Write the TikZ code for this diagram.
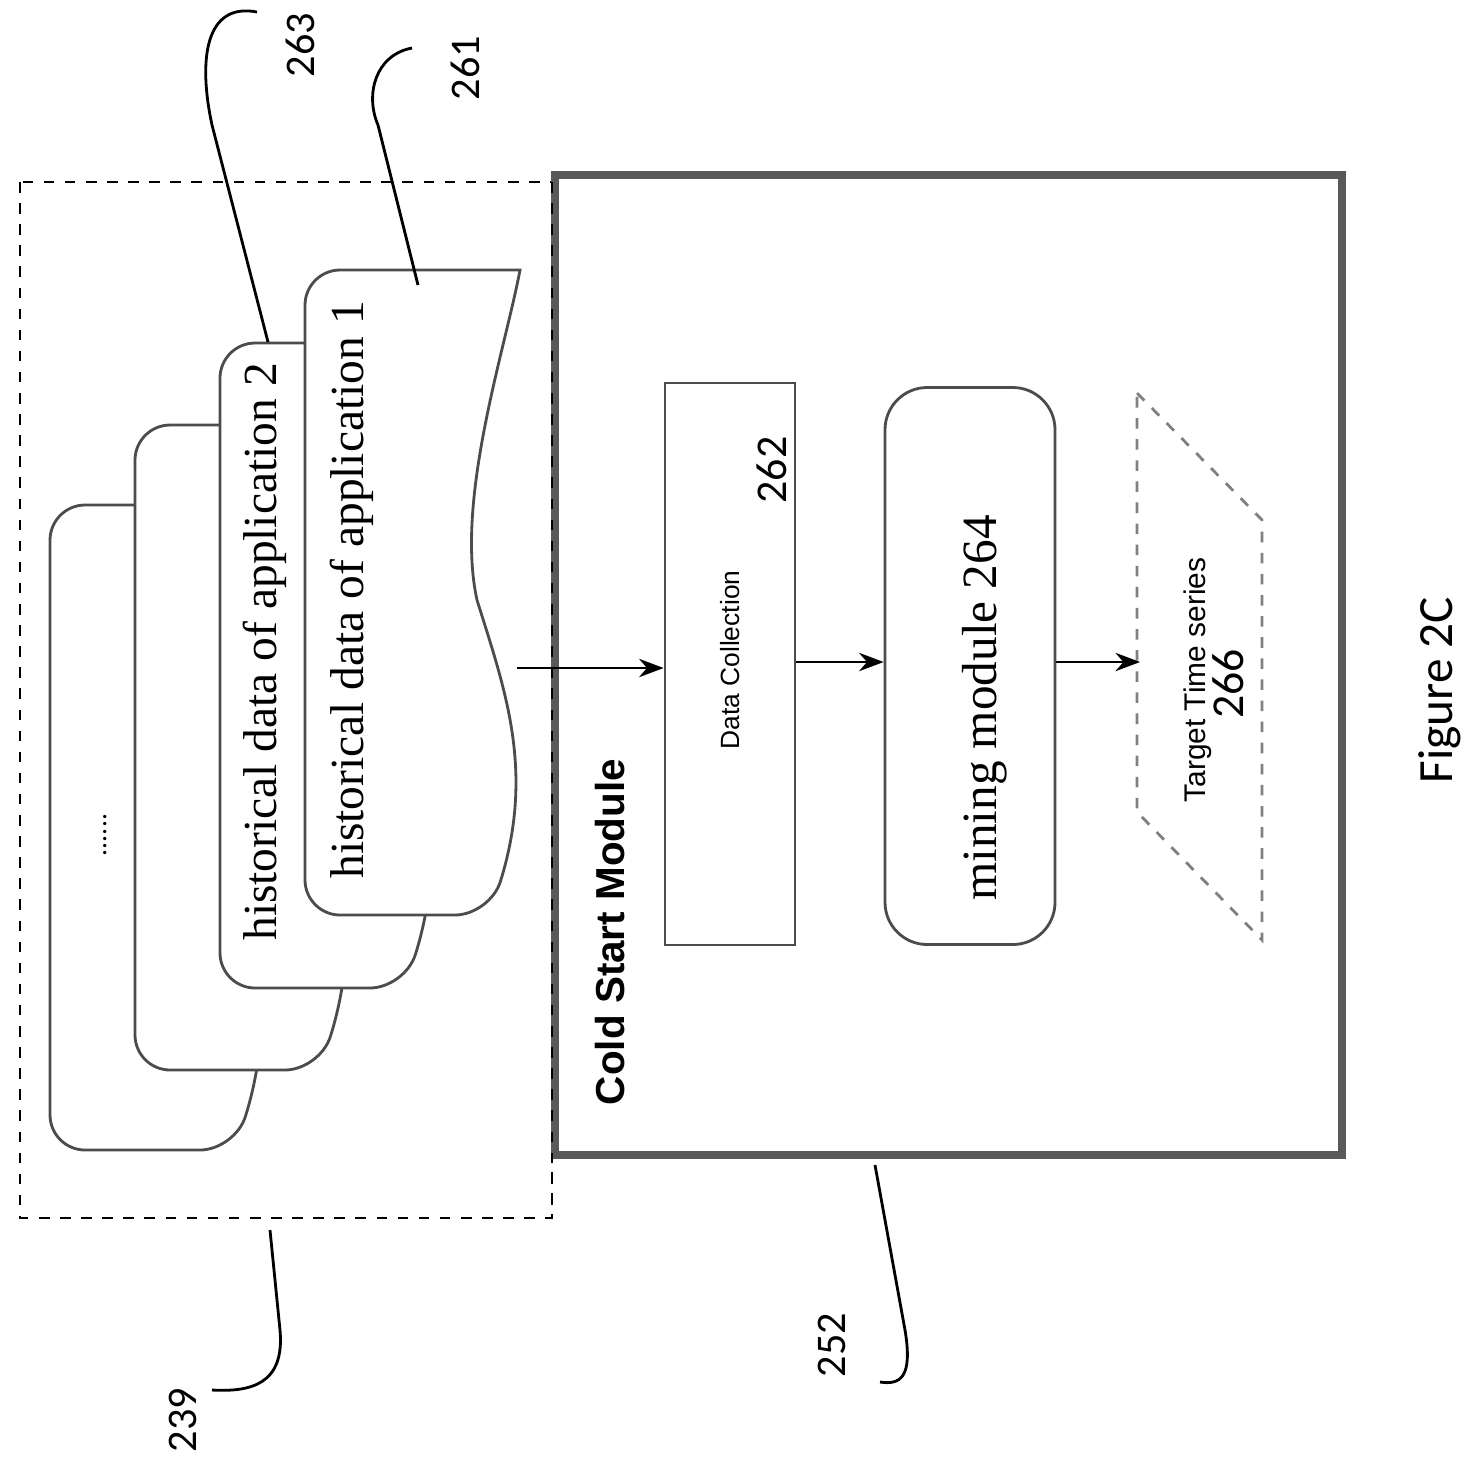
\documentclass[tikz,border=0pt]{standalone}
\usepackage{fontspec}
\setmainfont{Liberation Serif}
\setsansfont{Carlito}
\newfontfamily\arialfont{Liberation Sans}
\usetikzlibrary{positioning,arrows.meta}

% one stacked data card, top-left corner at (#1,#2)
\newcommand{\appcard}[2]{%
  \draw[gray!60!black, thick, fill=white, rounded corners=10]
    (#1+215,#2) -- (#1,#2) -- (#1,#2+645) -- (#1+185,#2+645)
    [rounded corners=0]
    .. controls (#1+230,#2+500) and (#1+200,#2+420) .. (#1+172,#2+330)
    .. controls (#1+150,#2+230) and (#1+200,#2+80) .. (#1+215,#2) -- cycle;}

\begin{document}
\begin{tikzpicture}[x=0.01cm, y=-0.01cm,
    flow/.style={-{Stealth[length=7pt]}, thin},
    leader/.style={thick},
    num/.style={font=\sffamily\fontsize{12}{12}\selectfont, rotate=90},
    box/.style={draw, gray!60!black, thick}]
    \useasboundingbox (0,0) rectangle (1480,1460);

    % outer frames
    \draw[dashed, thick] (20,182) rectangle (552,1218);
    \draw[gray!70!black, line width=2.4pt] (555,175) rectangle (1342,1155);
    \draw[dashed, thick] (552,182) -- (552,1218);

    % cards
    \appcard{50}{505}
    \appcard{135}{425}
    \appcard{220}{343}
    \appcard{305}{270}
    \node[rotate=90, font=\fontsize{8}{8}\selectfont] (dots) at (105,835) {......};
    \node[rotate=90, font=\fontsize{13.5}{13.5}\selectfont] (apptwo) at (265,652) {historical data of application 2};
    \node[rotate=90, font=\fontsize{13.5}{13.5}\selectfont] (appone) at (352,590) {historical data of application 1};
    \coordinate (appout) at (517,668);

    % module parts
    \node[box, minimum width=130*0.01cm, minimum height=562*0.01cm] (collect) at (730,664) {};
    \node[rotate=90, font=\arialfont\fontsize{7.5}{7.5}\selectfont] (collecttxt) at (730,660) {Data Collection};
    \node[num, font=\sffamily\fontsize{12.5}{12.5}\selectfont] (n262) at (772,470) {262};
    \node[box, rounded corners=12, minimum width=170*0.01cm, minimum height=557*0.01cm] (mining) at (970,666) {};
    \node[rotate=90, font=\fontsize{14}{14}\selectfont] (miningtxt) at (985,708) {mining module 264};
    \draw[dashed, gray, thick] (1137,393) -- (1262,520) -- (1262,940) -- (1137,812) -- cycle;
    \coordinate (target) at (1140,662);
    \node[rotate=90, font=\arialfont\fontsize{8.5}{8.5}\selectfont] (targettxt) at (1198,680) {Target Time series};
    \node[num, font=\sffamily\fontsize{13}{13}\selectfont] (n266) at (1228,684) {266};
    \node[rotate=90, font=\arialfont\bfseries\fontsize{11.5}{11.5}\selectfont] (cold) at (610,932) {Cold Start Module};

    \draw[flow] (appout) -- (collect.west |- appout);
    \draw[flow] (collect.east |- 0,662) -- (mining.west |- 0,662);
    \draw[flow] (mining.east |- 0,662) -- (target);

    % reference numerals
    \node[num] (n263) at (300,45) {263};
    \node[num] (n261) at (465,68) {261};
    \node[num] (n239) at (183,1420) {239};
    \node[num] (n252) at (832,1345) {252};
    \node[rotate=90, font=\sffamily\fontsize{14}{14}\selectfont] (fig) at (1440,690) {Figure 2C};
    \draw[leader] (257,12) .. controls (205,2) and (198,60) .. (212,125) -- (268,342);
    \draw[leader] (412,48) .. controls (375,55) and (365,95) .. (378,125) -- (418,285);
    \draw[leader] (270,1230) -- (280,1330) .. controls (285,1385) and (250,1392) .. (212,1390);
    \draw[leader] (875,1165) -- (905,1330) .. controls (913,1378) and (900,1385) .. (880,1382);
\end{tikzpicture}
\end{document}
